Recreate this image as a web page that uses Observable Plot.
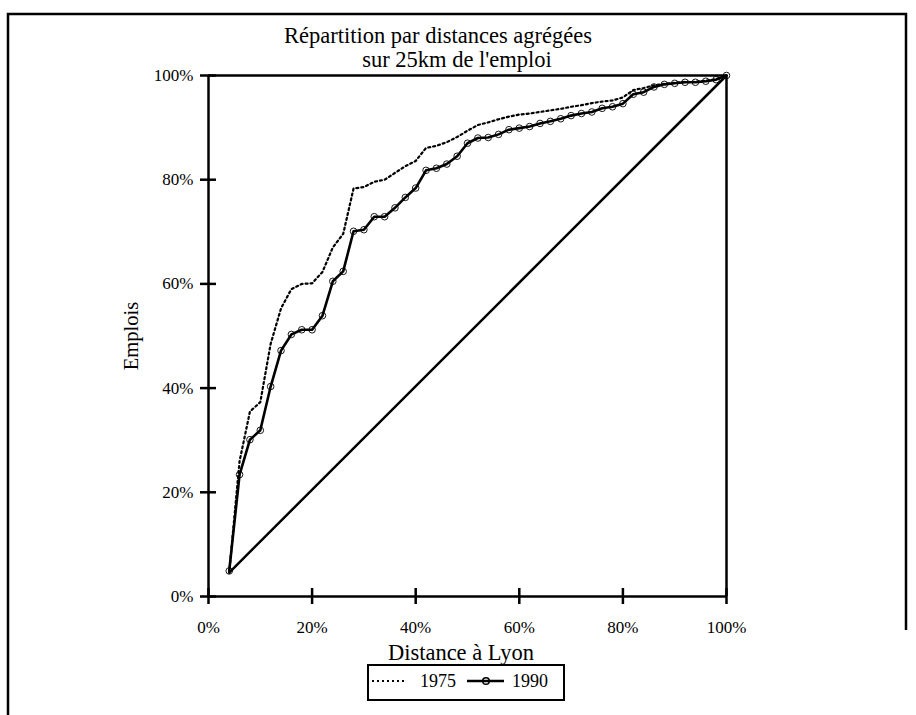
<!DOCTYPE html>
<html>
<head>
<meta charset="utf-8">
<script src="https://cdn.jsdelivr.net/npm/d3@7"></script>
<script src="https://cdn.jsdelivr.net/npm/@observablehq/plot@0.6"></script>
<style>
  html, body { margin: 0; padding: 0; background: white; }
</style>
</head>
<body>
<div id="chart"></div>
<script>
// ---- Data ----
const distance = [4,6,8,10,12,14,16,18,20,22,24,26,28,30,32,34,36,38,40,42,44,46,48,50,52,54,56,58,60,62,64,66,68,70,72,74,76,78,80,82,84,86,88,90,92,94,96,98,100];
const emploi1975 = [4.6,26,35.5,37.3,48.5,55.3,59,60,60.1,62.3,67,69.6,78.3,78.6,79.6,80,81.3,82.6,83.6,86.1,86.5,87.2,88.2,89.4,90.5,91,91.6,92.1,92.5,92.7,93,93.3,93.6,94,94.3,94.7,95,95.2,95.8,97.2,97.6,98.1,98.4,98.6,98.8,98.8,99,99.3,100];
const emploi1990 = [4.9,23.4,30.1,31.9,40.3,47.2,50.3,51.2,51.2,53.9,60.5,62.4,70.1,70.4,72.9,72.9,74.6,76.6,78.4,81.8,82.2,83,84.5,87,88,88.1,88.7,89.6,89.9,90.2,90.8,91.2,91.7,92.3,92.7,93,93.7,94,94.6,96.4,96.8,97.8,98.3,98.5,98.7,98.7,98.9,99.2,100];
const diagonalX = [4, 100];
const diagonalY = [4.6, 100];
const xTicks = [0, 20, 40, 60, 80, 100];
const yTicks = [0, 20, 40, 60, 80, 100];
const titleLines = ["Répartition par distances agrégées", "sur 25km de l'emploi"];
const xLabel = "Distance à Lyon";
const yLabel = "Emplois";
const seriesNames = ["1975", "1990"];

const d1975 = distance.map((x, i) => ({x, y: emploi1975[i]}));
const d1990 = distance.map((x, i) => ({x, y: emploi1990[i]}));
const diag = diagonalX.map((x, i) => ({x, y: diagonalY[i]}));

const W = 916, H = 715;
const FONT = "'Liberation Serif', 'Times New Roman', serif";
const DOTS = "2,3";

const chart = Plot.plot({
  width: W,
  height: H,
  marginLeft: 208,
  marginRight: 190,
  marginTop: 75,
  marginBottom: 119,
  style: { fontFamily: FONT, fontSize: "17px", background: "white", color: "black" },
  x: { domain: [0, 100] },
  y: { domain: [0, 100] },
  marks: [
    Plot.ruleY([0, 100], { stroke: "black", strokeWidth: 2.5 }),
    Plot.ruleX([0, 100], { stroke: "black", strokeWidth: 2.5 }),
    Plot.axisX({ ticks: xTicks, tickSize: 16, dy: -8, tickFormat: () => "", strokeWidth: 2.5, label: null }),
    Plot.axisY({ ticks: yTicks, tickSize: 16, dx: 8, tickFormat: () => "", strokeWidth: 2.5, label: null }),
    Plot.axisX({ ticks: xTicks, tickSize: 0, tickPadding: 24, tickFormat: d => d + "%", label: null, fontSize: 17 }),
    Plot.axisY({ ticks: yTicks, tickSize: 0, tickPadding: 15, tickFormat: d => d + "%", label: null, fontSize: 17 }),
    Plot.line(diag, { x: "x", y: "y", stroke: "black", strokeWidth: 2.5 }),
    Plot.line(d1975, { x: "x", y: "y", stroke: "black", strokeWidth: 2.2, strokeDasharray: DOTS }),
    Plot.line(d1990, { x: "x", y: "y", stroke: "black", strokeWidth: 2.6 }),
    Plot.dot(d1990, { x: "x", y: "y", r: 3.3, stroke: "black", strokeWidth: 0.9, fill: "none" })
  ]
});

const svg = d3.select(chart);

// outer frame
svg.append("path")
  .attr("d", `M8,${H} V14 H906 V630`)
  .attr("fill", "none").attr("stroke", "black").attr("stroke-width", 2.5);

// title
const tt = svg.append("g").attr("font-family", FONT).attr("font-size", 22.5).attr("text-anchor", "middle").attr("fill", "black");
tt.append("text").attr("x", 438).attr("y", 43).text(titleLines[0]);
tt.append("text").attr("x", 457).attr("y", 67).text(titleLines[1]);

// axis titles
svg.append("text").attr("x", 461).attr("y", 660).attr("text-anchor", "middle")
  .attr("font-family", FONT).attr("font-size", 22.5).attr("fill", "black").text(xLabel);
svg.append("text").attr("transform", "translate(138,336) rotate(-90)").attr("text-anchor", "middle")
  .attr("font-family", FONT).attr("font-size", 20.5).attr("fill", "black").text(yLabel);

// legend
const lg = svg.append("g").attr("text-anchor", "start");
lg.append("rect").attr("x", 368).attr("y", 665).attr("width", 196).attr("height", 35)
  .attr("fill", "white").attr("stroke", "black").attr("stroke-width", 2);
lg.append("line").attr("x1", 372).attr("x2", 404).attr("y1", 681).attr("y2", 681)
  .attr("stroke", "black").attr("stroke-width", 2.2).attr("stroke-dasharray", DOTS);
lg.append("text").attr("x", 420).attr("y", 687).attr("font-family", FONT).attr("font-size", 18).attr("text-anchor", "start").text(seriesNames[0]);
lg.append("line").attr("x1", 467).attr("x2", 504).attr("y1", 681).attr("y2", 681)
  .attr("stroke", "black").attr("stroke-width", 2.6);
lg.append("circle").attr("cx", 486).attr("cy", 681).attr("r", 3.3)
  .attr("fill", "none").attr("stroke", "black").attr("stroke-width", 1.5);
lg.append("text").attr("x", 512).attr("y", 687).attr("font-family", FONT).attr("font-size", 18).attr("text-anchor", "start").text(seriesNames[1]);

document.getElementById("chart").appendChild(chart);
</script>
</body>
</html>
